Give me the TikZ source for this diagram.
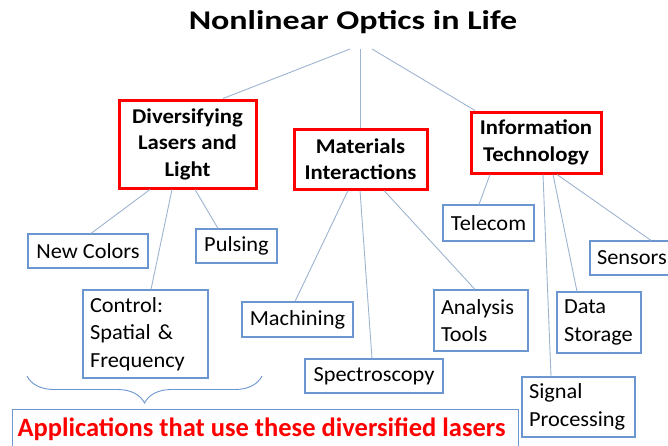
\documentclass[tikz,border=0pt]{standalone}
\usepackage{fontspec}
\setmainfont{Carlito}
\newfontfamily\titlefont[FakeStretch=1.26]{Carlito}
\newfontfamily\redfont[FakeStretch=1.08]{Carlito}
\newfontfamily\bluefont[FakeStretch=1.04]{Carlito}
\usetikzlibrary{decorations.pathreplacing}
\definecolor{boxblue}{HTML}{6B96D0}
\definecolor{linkblue}{HTML}{9DB3CF}
\definecolor{redbox}{HTML}{FF0000}
\tikzset{
  redbox/.style={draw=redbox, line width=3pt, fill=white, align=center, inner sep=0pt,
    font=\redfont\fontsize{21}{26.5}\selectfont\bfseries},
  bluebox/.style={draw=boxblue, line width=1.1pt, fill=white, inner ysep=0pt, inner xsep=7pt,
    font=\bluefont\fontsize{21.5}{27.5}\selectfont},
  link/.style={draw=linkblue, line width=0.9pt},
}
\begin{document}
\begin{tikzpicture}[x=1pt,y=-1pt]
\useasboundingbox (0,0) rectangle (668,445);
\node[font=\titlefont\fontsize{27}{30}\selectfont\bfseries] (title) at (353,22) {Nonlinear Optics in Life};
\coordinate (t1) at (350,49);
\coordinate (t2) at (360,49);
\coordinate (t3) at (372,49);
% red boxes
\node[redbox, minimum width=137pt, minimum height=88pt] (div) at (187.5,144) {Diversifying\\Lasers and\\Light};
\node[redbox, minimum width=133pt, minimum height=60pt] (mat) at (360.5,159) {Materials\\Interactions};
\node[redbox, minimum width=130pt, minimum height=61pt] (info) at (536,142.5) {Information\\Technology};
% blue boxes
\node[bluebox, minimum width=120pt, minimum height=34pt] (nc) at (88,251) {New Colors};
\node[bluebox, minimum width=81pt, minimum height=34pt] (pul) at (236.5,246) {Pulsing};
\node[bluebox, minimum height=88pt, text width=111pt, align=left] (ctrl) at (145.5,334) {Control:\\Spatial \&\\Frequency};
\node[bluebox, minimum width=111pt, minimum height=35pt] (mach) at (297.5,319.5) {Machining};
\node[bluebox, minimum width=138pt, minimum height=34pt] (spec) at (374,376) {Spectroscopy};
\node[bluebox, minimum height=61pt, text width=80pt, align=left] (ana) at (481,320.5) {Analysis\\Tools};
\node[bluebox, minimum width=91pt, minimum height=36pt] (tel) at (488.5,223) {Telecom};
\node[bluebox, minimum height=34pt, text width=76pt, align=left] (sen) at (635,258) {Sensors};
\node[bluebox, minimum height=61pt, text width=70pt, align=left] (dat) at (599,322.5) {Data\\Storage};
\node[bluebox, minimum height=60pt, text width=99pt, align=left] (sig) at (578.5,407) {Signal\\Processing};
% bottom box
\node[bluebox, minimum width=506pt, minimum height=52pt, anchor=north west] (app) at (12,409) {};
\node[font=\fontsize{26.5}{30}\selectfont\bfseries, text=redbox] (apptxt) at (261.5,429) {Applications that use these diversified lasers};
% brace
\coordinate (b1) at (27,376);
\coordinate (b2) at (262,376);
\draw[draw=boxblue, line width=0.9pt, decorate, decoration={brace, mirror, amplitude=27pt}] (b1) -- (b2);
% connectors from title
\draw[link] (t1) -- ([xshift=35.5pt]div.north);
\draw[link] (t2) -- ([xshift=-0.5pt]mat.north);
\draw[link] (t3) -- ([xshift=-61pt]info.north);
% diversifying
\draw[link] ([xshift=-37.5pt]div.south) -- ([xshift=3pt]nc.north);
\draw[link] ([xshift=-15.5pt]div.south) -- ([xshift=5.5pt]ctrl.north);
\draw[link] ([xshift=7.5pt]div.south) -- ([xshift=-18.5pt]pul.north);
% materials
\draw[link] ([xshift=-12.5pt]mat.south) -- ([xshift=-2.5pt]mach.north);
\draw[link] ([xshift=-0.5pt]mat.south) -- ([xshift=-2pt]spec.north);
\draw[link] ([xshift=23.5pt]mat.south) -- ([xshift=-6pt]ana.north);
% information
\draw[link] ([xshift=-46pt]info.south) -- ([xshift=-9.5pt]tel.north);
\draw[link] ([xshift=7pt]info.south) -- ([xshift=-27.5pt]sig.north);
\draw[link] ([xshift=17pt]info.south) -- ([xshift=-22pt]dat.north);
\draw[link] ([xshift=21pt]info.south) -- ([xshift=16pt]sen.north);
\end{tikzpicture}
\end{document}
